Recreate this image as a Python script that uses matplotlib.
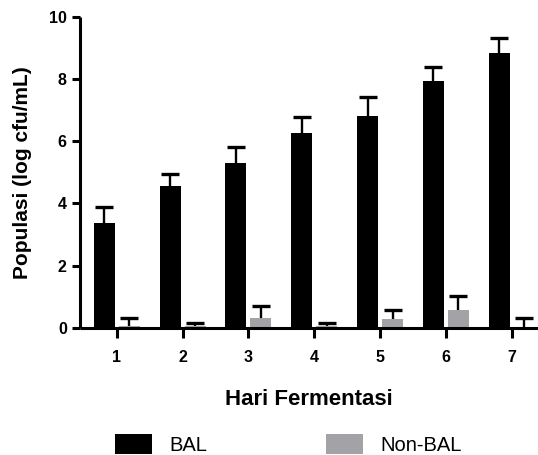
import numpy as np
import matplotlib
matplotlib.use("Agg")
import matplotlib.pyplot as plt

plt.rcParams["font.family"] = ["Liberation Sans", "DejaVu Sans"]

# data
days = [1, 2, 3, 4, 5, 6, 7]
bal = [3.37, 4.55, 5.30, 6.27, 6.81, 7.93, 8.85]
bal_err = [0.50, 0.40, 0.51, 0.50, 0.62, 0.47, 0.47]
nonbal = [0.05, 0.05, 0.32, 0.04, 0.28, 0.57, 0.03]
nonbal_err = [0.27, 0.09, 0.39, 0.12, 0.29, 0.46, 0.27]

black = "#000000"
gray = "#a2a2a7"
width = 0.32
off = 0.19

fig = plt.figure(figsize=(5.38, 4.55), dpi=100)
ax = fig.add_axes([80 / 538, 1 - 327.7 / 455, 458 / 538, (327.7 - 17) / 455])

x = np.array(days, dtype=float)

ax.bar(x - off, bal, width, color=black, label="BAL", zorder=2)
ax.bar(x + off, nonbal, width, color=gray, label="Non-BAL", zorder=2)

for xs, vals, errs in [(x - off, bal, bal_err), (x + off, nonbal, nonbal_err)]:
    eb = ax.errorbar(xs, vals, yerr=[np.zeros(len(errs)), errs], fmt="none",
                     ecolor=black, elinewidth=1.7, capsize=6.3, capthick=2.4,
                     zorder=3)
    eb[1][0].set_visible(False)  # no cap at the bar top

ax.set_xlim(0.442, 7.40)
ax.set_ylim(0, 10)
ax.set_xticks(days)
ax.set_yticks([0, 2, 4, 6, 8, 10])

for side in ["top", "right"]:
    ax.spines[side].set_visible(False)
for side in ["left", "bottom"]:
    ax.spines[side].set_linewidth(2.2)
    ax.spines[side].set_capstyle("butt")
ax.spines["left"].set_zorder(4)
ax.spines["bottom"].set_zorder(4)

ax.tick_params(axis="x", length=7, width=2.2, pad=9, labelsize=11.5)
ax.tick_params(axis="y", length=5.5, width=2.2, pad=4, labelsize=11.5)
for lab in ax.get_xticklabels() + ax.get_yticklabels():
    lab.set_fontweight("bold")

ax.set_ylabel("Populasi (log cfu/mL)", fontsize=15, fontweight="bold", labelpad=12)
ax.set_xlabel("Hari Fermentasi", fontsize=16, fontweight="bold", labelpad=17)

fig.legend(loc="center left", bbox_to_anchor=(115 / 538, 1 - 444.5 / 455),
           ncol=2, frameon=False, fontsize=14.5, handlelength=1.85,
           handleheight=1.15, handletextpad=0.85, columnspacing=5.9,
           borderpad=0, borderaxespad=0)

fig.savefig("out.png", dpi=100)
